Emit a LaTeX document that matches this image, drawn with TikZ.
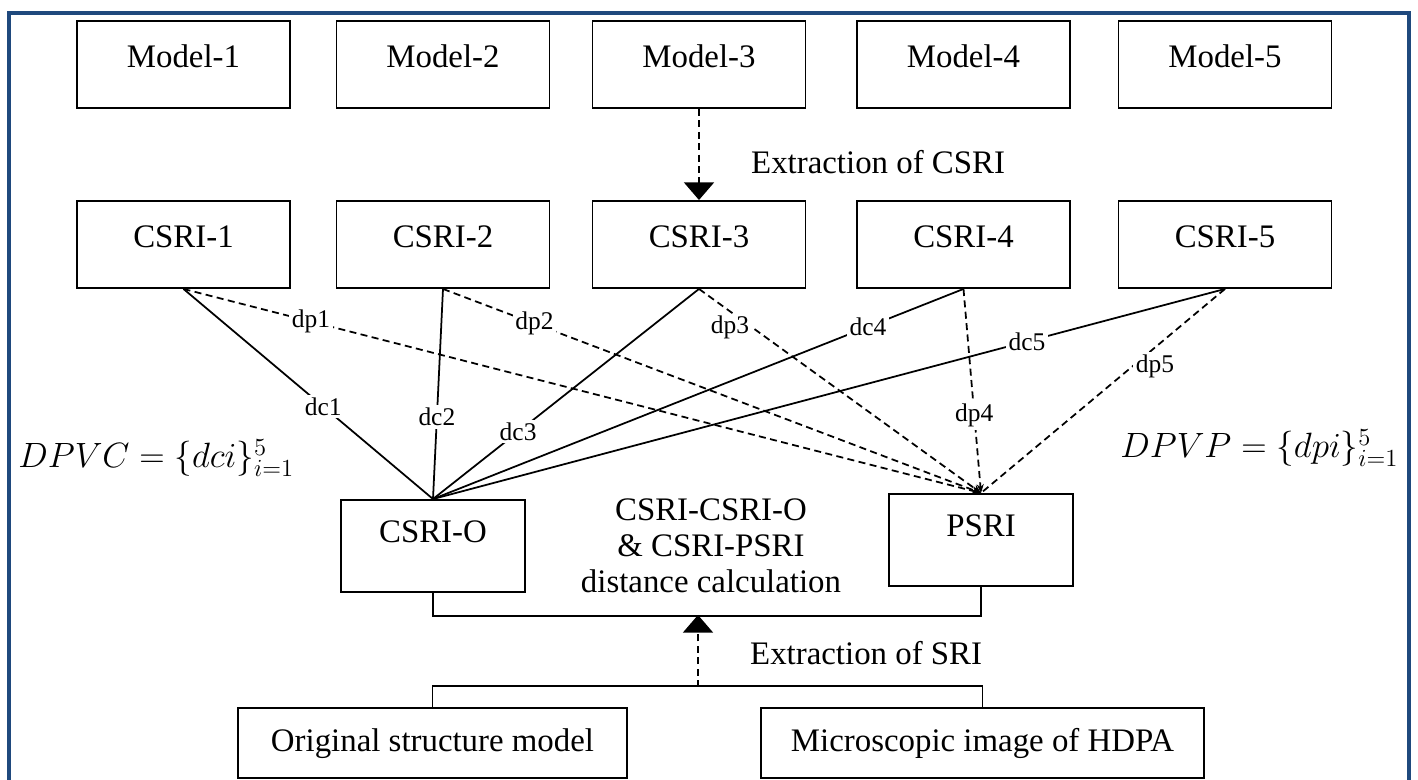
\RequirePackage{fix-cm}
\documentclass[tikz,border=0pt]{standalone}
\usepackage{fontspec}
\setmainfont{Liberation Serif}
\usetikzlibrary{arrows.meta}
\definecolor{framecol}{RGB}{31,73,125}

\begin{document}
\begin{tikzpicture}[
    box/.style={draw, line width=1.1pt, minimum width=4.26cm, minimum height=1.74cm,
        inner sep=0pt, font=\fontsize{18.7}{22}\selectfont, text height=0.5cm, text depth=0.36cm},
    midbox/.style={box, minimum width=3.68cm, minimum height=1.84cm, text depth=0.64cm},
    srcbox/.style={box, minimum height=1.4cm, text depth=0.14cm},
    conn/.style={line width=1pt},
    dline/.style={line width=1pt, dash pattern=on 4pt off 2.5pt},
    lbl/.style={font=\fontsize{14.5}{16}\selectfont, fill=white, inner sep=1.5pt},
    bigtip/.style={-{Triangle[width=17pt,length=10pt]}},
    txt/.style={font=\fontsize{18.7}{20.4}\selectfont},
    formula/.style={anchor=west, inner sep=0pt, font=\fontsize{20}{24}\selectfont}
]
    \useasboundingbox (0,0) rectangle (28.36,15.6);

    % Frame
    \draw[framecol, line width=2.3pt] (0.18,-0.5) rectangle (28.18,15.34);

    % Models
    \node[box] (m1) at (3.67,14.31) {Model-1};
    \node[box] (m2) at (8.86,14.31) {Model-2};
    \node[box] (m3) at (13.98,14.31) {Model-3};
    \node[box] (m4) at (19.27,14.31) {Model-4};
    \node[box] (m5) at (24.5,14.31) {Model-5};

    % CSRI of each model
    \node[box] (c1) at (3.67,10.71) {CSRI-1};
    \node[box] (c2) at (8.86,10.71) {CSRI-2};
    \node[box] (c3) at (13.98,10.71) {CSRI-3};
    \node[box] (c4) at (19.27,10.71) {CSRI-4};
    \node[box] (c5) at (24.5,10.71) {CSRI-5};

    \draw[dline, bigtip] (m3.south) -- (c3.north);
    \node[txt, anchor=west] (excsri) at (14.9,12.36) {Extraction of CSRI};

    % Reference nodes
    \node[midbox] (csrio) at (8.66,4.68) {CSRI-O};
    \node[midbox] (psri) at (19.62,4.8) {PSRI};
    \node[txt, align=center] (calc) at (14.22,4.68) {CSRI-CSRI-O\\\& CSRI-PSRI\\distance calculation};

    % Distances to CSRI-O
    \draw[conn] (c1.south) -- node[lbl, pos=0.56] {dc1} (csrio.north);
    \draw[conn] (c2.south) -- node[lbl, pos=0.61] {dc2} (csrio.north);
    \draw[conn] (c3.south) -- node[lbl, pos=0.68] {dc3} (csrio.north);
    \draw[conn] (c4.south) -- node[lbl, pos=0.18] {dc4} (csrio.north);
    \draw[conn] (c5.south) -- node[lbl, pos=0.25] {dc5} (csrio.north);

    % Distances to PSRI
    \draw[dline, -{Stealth[length=5pt,width=4pt]}] (c1.south) -- node[lbl, pos=0.16] {dp1} (psri.north);
    \draw[dline, -{Stealth[length=5pt,width=4pt]}] (c2.south) -- node[lbl, pos=0.17] {dp2} (psri.north);
    \draw[dline, -{Stealth[length=5pt,width=4pt]}] (c3.south) -- node[lbl, pos=0.19, left] {dp3} (psri.north);
    \draw[dline, -{Stealth[length=5pt,width=4pt]}] (c4.south) -- node[lbl, pos=0.62] {dp4} (psri.north);
    \draw[dline] (c5.south) -- node[lbl, pos=0.38, right] {dp5} (psri.north);

    % Distance vectors
    \node[formula] (dpvc) at (0.36,6.44) {$DPVC=\{dci\}^{5}_{i=1}$};
    \node[formula] (dpvp) at (22.4,6.64) {$DPVP=\{dpi\}^{5}_{i=1}$};

    % Sources
    \node[srcbox, minimum width=7.78cm] (orig) at (8.65,0.74) {Original structure model};
    \node[srcbox, minimum width=8.86cm] (micro) at (19.65,0.74) {Microscopic image of HDPA};

    % Buses and SRI extraction
    \draw[conn] (csrio.south) -- ++(0,-0.46) -| (psri.south);
    \draw[conn] (orig.north) -- ++(0,0.42) -| (micro.north);
    \coordinate (sriup) at (13.96,3.3);
    \coordinate (srilow) at (13.96,1.86);
    \draw[dline, bigtip] (srilow) -- (sriup);
    \node[txt, anchor=west] (exsri) at (14.88,2.54) {Extraction of SRI};

\end{tikzpicture}
\end{document}
